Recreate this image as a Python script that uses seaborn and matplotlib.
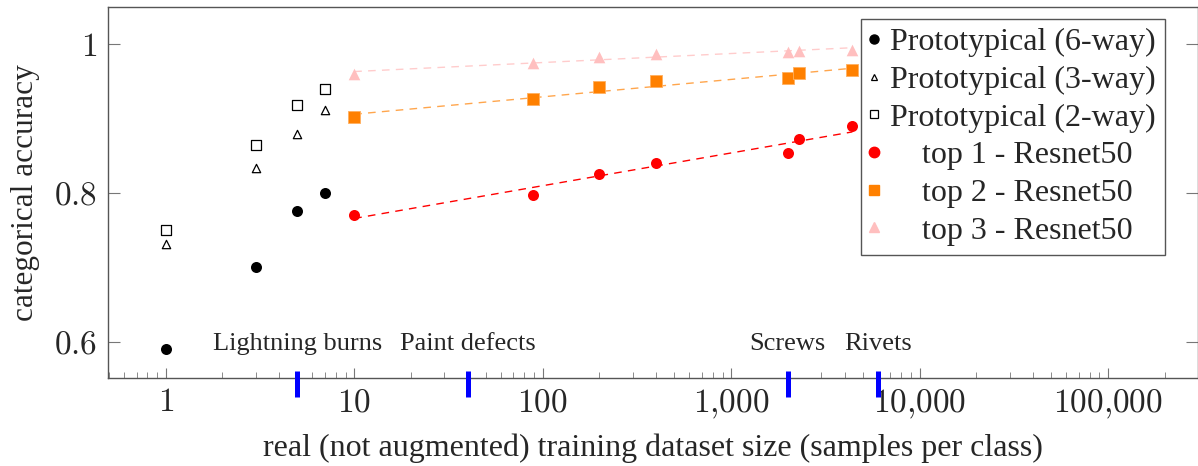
import numpy as np
import matplotlib
matplotlib.use("Agg")
import matplotlib.pyplot as plt
import matplotlib.transforms as mtransforms
from matplotlib.lines import Line2D
from matplotlib.ticker import FixedLocator, FuncFormatter, LogLocator, NullFormatter
import seaborn as sns

# ---- data ----
proto_x = [1, 3, 5, 7]
proto6 = [0.590, 0.701, 0.776, 0.800]
proto3 = [0.731, 0.834, 0.880, 0.912]
proto2 = [0.750, 0.864, 0.919, 0.940]

resnet_x = [10, 89, 200, 400, 2000, 2300, 4400]
top1 = [0.770, 0.798, 0.826, 0.841, 0.854, 0.873, 0.890]
top2 = [0.902, 0.926, 0.943, 0.950, 0.955, 0.962, 0.965]
top3 = [0.960, 0.975, 0.983, 0.987, 0.990, 0.991, 0.993]

defect_names = ["Lightning burns", "Paint defects", "Screws", "Rivets"]
defect_sizes = [5, 40, 2000, 6000]

x_ticks = [1, 10, 100, 1000, 10000, 100000]
y_ticks = [0.6, 0.8, 1.0]

legend_labels = ["Prototypical (6-way)", "Prototypical (3-way)", "Prototypical (2-way)",
                 "    top 1 - Resnet50", "    top 2 - Resnet50", "    top 3 - Resnet50"]

# ---- style ----
sns.set_style("ticks")
plt.rcParams["font.family"] = ["Liberation Serif", "DejaVu Serif"]
plt.rcParams["mathtext.fontset"] = "cm"
FS = 23
TFS = 24

RED = "#ff0000"
ORANGE = "#ff8000"
PINK = "#ffbfbf"
ORANGE_L = "#ffa64d"
PINK_L = "#ffcccc"
SPINE = "#555555"

fig = plt.figure(figsize=(11.98, 4.66), dpi=100)
ax = fig.add_axes([108 / 1198, 1 - 378 / 466, 1 - 108 / 1198, 371 / 466])

# prototypical
sns.scatterplot(x=proto_x, y=proto6, ax=ax, marker="o", s=63, color="black",
                edgecolor="black", linewidth=0, zorder=3)
sns.scatterplot(x=proto_x, y=proto3, ax=ax, marker="^", s=36, facecolor="white",
                edgecolor="black", linewidth=0.9, zorder=3)
sns.scatterplot(x=proto_x, y=proto2, ax=ax, marker="s", s=52, facecolor="white",
                edgecolor="black", linewidth=0.9, zorder=3)

# resnet trend lines
for yy, lc in [(top1, RED), (top2, ORANGE_L), (top3, PINK_L)]:
    sns.regplot(x=np.array(resnet_x, float), y=np.array(yy), ax=ax, logx=True, ci=None,
                scatter=False, truncate=True,
                line_kws=dict(color=lc, lw=1.0, ls=(0, (5.5, 4.5)), zorder=2))

sns.scatterplot(x=resnet_x, y=top1, ax=ax, marker="o", s=63, color=RED, linewidth=0, zorder=3)
sns.scatterplot(x=resnet_x, y=top2, ax=ax, marker="s", s=70, color=ORANGE,
                edgecolor="#ffb060", linewidth=0.6, zorder=3)
sns.scatterplot(x=resnet_x, y=top3, ax=ax, marker="^", s=70, color=PINK, linewidth=0, zorder=3)

ax.set_xscale("log")
ax.set_xlim(0.494, 3.0e5)
ax.set_ylim(0.5512, 1.0502)

# defect annotations
trans = mtransforms.blended_transform_factory(ax.transData, ax.transAxes)
for name, xs in zip(defect_names, defect_sizes):
    ax.text(xs, 0.597, name, ha="center", va="center", fontsize=19, zorder=4)
    ax.plot([xs, xs], [-0.052, 0.019], transform=trans, color="#0000ff", lw=3.6,
            solid_capstyle="butt", clip_on=False, zorder=5)

# ticks
ax.xaxis.set_major_locator(FixedLocator(x_ticks))
ax.xaxis.set_major_formatter(FuncFormatter(lambda v, p: r"$%s$" % f"{int(round(v)):,}".replace(",", "{,}")))
ax.xaxis.set_minor_locator(LogLocator(base=10, subs=np.arange(2, 10), numticks=20))
ax.xaxis.set_minor_formatter(NullFormatter())
ax.yaxis.set_major_locator(FixedLocator(y_ticks))
ax.yaxis.set_major_formatter(FuncFormatter(lambda v, p: r"$%s$" % ("1" if abs(v - 1) < 1e-9 else f"{v:.1f}")))

ax.tick_params(axis="x", which="major", direction="in", length=7, width=0.8, color="#777777",
               labelsize=TFS, pad=7, top=False, bottom=True)
ax.tick_params(axis="x", which="minor", direction="in", length=4.5, width=0.6, color="#777777",
               top=False, bottom=True)
ax.tick_params(axis="y", which="major", direction="in", length=8.5, width=0.8, color="#777777",
               labelsize=TFS, pad=8, left=True, right=True)

for sp in ax.spines.values():
    sp.set_color(SPINE)
    sp.set_linewidth(1.0)
    sp.set_visible(True)

ax.set_xlabel("real (not augmented) training dataset size (samples per class)", fontsize=FS, labelpad=9)
ax.set_ylabel("categorical accuracy", fontsize=FS - 0.5, labelpad=10)

# legend
handles = [
    Line2D([], [], ls="none", marker="o", ms=6.5, mfc="black", mec="black"),
    Line2D([], [], ls="none", marker="^", ms=5, mfc="white", mec="black", mew=0.9),
    Line2D([], [], ls="none", marker="s", ms=6, mfc="white", mec="black", mew=0.9),
    Line2D([], [], ls="none", marker="o", ms=7.5, mfc=RED, mec=RED),
    Line2D([], [], ls="none", marker="s", ms=7, mfc=ORANGE, mec=ORANGE),
    Line2D([], [], ls="none", marker="^", ms=7.5, mfc=PINK, mec=PINK),
]
leg = ax.legend(handles, legend_labels, loc="upper right",
                bbox_to_anchor=(1 - 33 / 1090, 1 - 12 / 371), borderaxespad=0,
                fontsize=FS, frameon=True, fancybox=False, framealpha=1,
                edgecolor=SPINE, handlelength=0.3, handletextpad=0.35,
                labelspacing=0.26, borderpad=0.28)
leg.get_frame().set_linewidth(1.0)
leg.set_zorder(10)

fig.savefig("out.png", dpi=100)
